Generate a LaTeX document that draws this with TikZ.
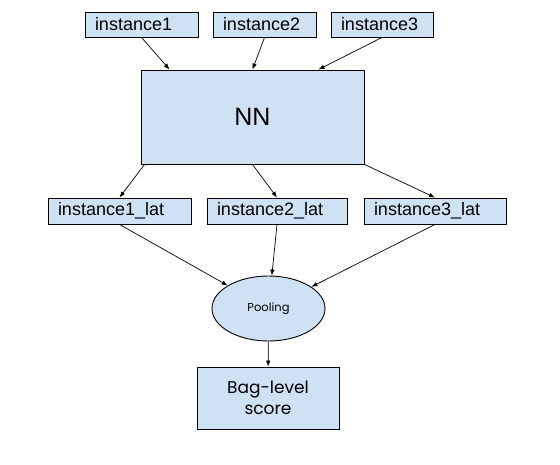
\documentclass[tikz,border=0pt]{standalone}
\usepackage{fontspec}
\setmainfont{Liberation Sans}
\newfontfamily\roundfont{Poppins}
\usepackage{tikz}
\usetikzlibrary{shapes.geometric, arrows.meta, positioning}
\definecolor{cellblue}{RGB}{207,226,243}

\begin{document}
\begin{tikzpicture}[
    x=1pt, y=-1pt,
    box/.style={draw, fill=cellblue, minimum height=25pt, inner xsep=10pt, inner ysep=0pt,
                align=left, font=\fontsize{18}{21}\selectfont, line width=0.9pt},
    pool/.style={draw, ellipse, fill=cellblue, minimum width=113pt, minimum height=65pt,
                 font=\roundfont\fontsize{11.5}{14}\selectfont, line width=0.9pt},
    arr/.style={-{Latex[length=6pt, width=4.5pt]}, line width=0.7pt},
]
\useasboundingbox (0,0) rectangle (560,464);

\node[box, text width=93pt] (inst1) at (141.5,24.5) {instance1};
\node[box, text width=83pt] (inst2) at (264.5,24.5) {instance2};
\node[box, text width=82pt] (inst3) at (382,24.5) {instance3};
\node[box, align=center, minimum width=223pt, minimum height=94pt,
      font=\fontsize{25}{30}\selectfont] (nn) at (252.5,117) {NN};
\node[box, text width=123pt, minimum height=26pt] (lat1) at (119.5,211) {instance1\_lat};
\node[box, text width=120pt, minimum height=26pt] (lat2) at (277,211) {instance2\_lat};
\node[box, text width=122pt, minimum height=26pt] (lat3) at (435,211) {instance3\_lat};
\node[pool] (pooling) at (268.5,308.5) {Pooling};
\node[box, align=center, minimum width=142pt, minimum height=62pt,
      font=\roundfont\fontsize{17}{21}\selectfont] (bag) at (268,398) {Bag-level\\score};

\draw[arr] (inst1.south) -- ([xshift=29pt]nn.north west);
\draw[arr] (inst2.south) -- (nn.north);
\draw[arr] (inst3.south) -- ([xshift=-46pt]nn.north east);
\draw[arr] ([xshift=4pt]nn.south west) -- (lat1.north);
\draw[arr] (nn.south) -- (lat2.north);
\draw[arr] (nn.south east) -- (lat3.north);
\draw[arr] (lat1.south) -- (pooling);
\draw[arr] (lat2.south) -- (pooling);
\draw[arr] (lat3.south) -- (pooling);
\draw[arr] (pooling) -- (bag);
\end{tikzpicture}
\end{document}
